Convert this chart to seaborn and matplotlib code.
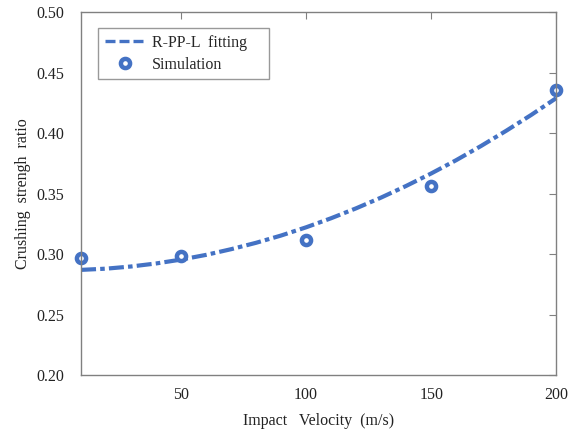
import matplotlib
matplotlib.use("Agg")
import matplotlib.pyplot as plt
import seaborn as sns
import pandas as pd

# Simulation points
sim_velocity = [10, 50, 100, 150, 200]
sim_ratio = [0.297, 0.298, 0.312, 0.356, 0.436]

# R-PP-L fitting curve
fit_velocity = [10, 20, 30, 40, 50, 60, 70, 80, 90, 100, 110, 120, 130, 140, 150, 160, 170, 180, 190, 200]
fit_ratio = [0.2869, 0.2879, 0.2897, 0.2922, 0.2954, 0.2993, 0.3040, 0.3093, 0.3153, 0.3221,
             0.3296, 0.3378, 0.3467, 0.3563, 0.3666, 0.3776, 0.3894, 0.4019, 0.4150, 0.4289]

x_ticks = [50, 100, 150, 200]
y_ticks = [0.20, 0.25, 0.30, 0.35, 0.40, 0.45, 0.50]

sns.set_theme(style="white")
plt.rcParams['font.family'] = ['Liberation Serif', 'DejaVu Serif']

fit_df = pd.DataFrame({"v": fit_velocity, "r": fit_ratio})
sim_df = pd.DataFrame({"v": sim_velocity, "r": sim_ratio})

color = "#4472C4"
fs = 11.5
fig = plt.figure(figsize=(5.83, 4.34), dpi=100)
ax = fig.add_axes([0.139, 0.136, 0.815, 0.836])

sns.lineplot(data=fit_df, x="v", y="r", ax=ax, color=color, linewidth=3.0,
             label="R-PP-L  fitting    ")
ax.lines[-1].set_dashes([3.6, 1.0, 1.1, 1.0])
sns.lineplot(data=sim_df, x="v", y="r", ax=ax, color=color, linestyle="none",
             marker="o", markersize=6.6, markerfacecolor="white",
             markeredgecolor=color, markeredgewidth=3.2, label="Simulation")
for ln in ax.lines:
    ln.set_clip_on(False)

ax.set_xlim(10, 200)
ax.set_ylim(0.20, 0.50)
ax.set_xticks(x_ticks)
ax.set_yticks(y_ticks)
ax.set_xticklabels([str(t) for t in x_ticks])
ax.set_yticklabels([f"{t:.2f}" for t in y_ticks])
ax.tick_params(direction="in", length=5, width=0.8, colors="#808080",
               labelcolor="#222222", labelsize=fs, top=True, right=True,
               labeltop=False, labelright=False, pad=12)
ax.tick_params(axis="x", pad=9)
for s in ax.spines.values():
    s.set_color("#808080")
    s.set_linewidth(1.0)

ax.set_xlabel("Impact   Velocity  (m/s)", fontsize=fs, color="#222222", labelpad=7)
ax.set_ylabel("Crushing  strengh  ratio", fontsize=fs, color="#222222", labelpad=4)

leg = ax.legend(loc="upper left", bbox_to_anchor=(0.036, 0.956), borderaxespad=0,
                fontsize=fs, frameon=True, fancybox=False, edgecolor="#808080",
                handlelength=2.6, handletextpad=0.35, borderpad=0.4, labelspacing=0.4)
leg.get_frame().set_linewidth(1.0)
hl = leg.get_lines()[0]
hl.set_linewidth(2.4)
hl.set_dashes([3.0, 1.2])

fig.savefig("out.png", dpi=100)
